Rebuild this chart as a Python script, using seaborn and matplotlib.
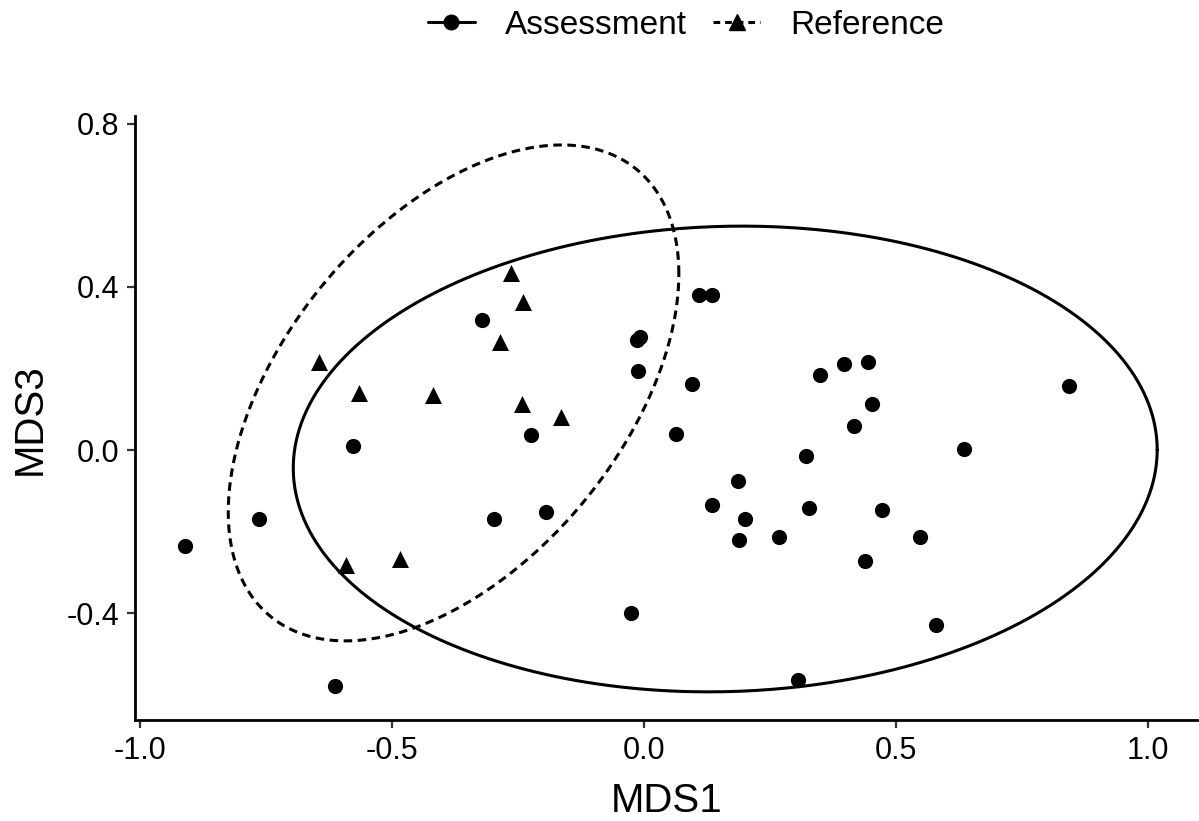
import numpy as np
import pandas as pd
import matplotlib
matplotlib.use("Agg")
import matplotlib.pyplot as plt
from matplotlib.lines import Line2D
import seaborn as sns

# ---------------- data ----------------
assess_x = [-0.911, -0.763, -0.577, -0.613, -0.321, -0.297, -0.225, -0.194, -0.025,
            -0.014, -0.008, -0.013, 0.096, 0.063, 0.109, 0.134, 0.350, 0.397, 0.445,
            0.452, 0.417, 0.321, 0.635, 0.843, 0.187, 0.134, 0.327, 0.472, 0.200,
            0.188, 0.267, 0.547, 0.438, 0.579, 0.306]
assess_y = [-0.235, -0.170, 0.011, -0.578, 0.320, -0.170, 0.036, -0.151, -0.399,
            0.270, 0.278, 0.194, 0.161, 0.039, 0.380, 0.380, 0.184, 0.212, 0.215,
            0.113, 0.058, -0.014, 0.002, 0.157, -0.075, -0.136, -0.142, -0.146, -0.169,
            -0.221, -0.214, -0.214, -0.273, -0.430, -0.564]
ref_x = [-0.264, -0.240, -0.286, -0.644, -0.566, -0.419, -0.242, -0.164, -0.591, -0.484]
ref_y = [0.433, 0.363, 0.265, 0.216, 0.139, 0.135, 0.114, 0.082, -0.282, -0.268]

groups = ["Assessment", "Reference"]
# ellipse parameters (centre, spread in x, spread in y, correlation)
ell_cx = [0.161, -0.378]
ell_cy = [-0.022, 0.140]
ell_sx = [0.857, 0.447]
ell_sy = [0.571, 0.608]
ell_rho = [0.039, 0.48]

xticks = [-1.0, -0.5, 0.0, 0.5, 1.0]
xtick_labels = ["-1.0", "-0.5", "0.0", "0.5", "1.0"]
yticks = [-0.4, 0.0, 0.4, 0.8]
ytick_labels = ["-0.4", "0.0", "0.4", "0.8"]

# ---------------- plot ----------------
sns.set_theme(style="ticks")
plt.rcParams['font.family'] = ['Liberation Sans', 'DejaVu Sans']
plt.rcParams['axes.unicode_minus'] = False

W, H = 1199, 821
fig = plt.figure(figsize=(W / 100, H / 100), dpi=100)
ax = fig.add_axes([135 / W, 1 - 720 / H, (1197 - 135) / W, (720 - 116) / H])

df_a = pd.DataFrame({"MDS1": assess_x, "MDS3": assess_y, "Group": groups[0]})
df_r = pd.DataFrame({"MDS1": ref_x, "MDS3": ref_y, "Group": groups[1]})

sns.scatterplot(data=df_a, x="MDS1", y="MDS3", color="black", marker="o",
                s=120, linewidth=0, legend=False, ax=ax, zorder=3)
sns.scatterplot(data=df_r, x="MDS1", y="MDS3", color="black", marker="^",
                s=150, linewidth=0, legend=False, ax=ax, zorder=3)

t = np.linspace(0, 2 * np.pi, 500)
styles = ["-", (0, (2.8, 1.8))]
for i in range(2):
    M = np.array([[ell_sx[i] ** 2, ell_rho[i] * ell_sx[i] * ell_sy[i]],
                  [ell_rho[i] * ell_sx[i] * ell_sy[i], ell_sy[i] ** 2]])
    L = np.linalg.cholesky(M)
    pts = np.array([[ell_cx[i]], [ell_cy[i]]]) + L @ np.vstack([np.cos(t), np.sin(t)])
    ax.plot(pts[0], pts[1], color="black", lw=2.2, linestyle=styles[i], zorder=2)

ax.set_xlim(-1.010, 1.097)
ax.set_ylim(-0.662, 0.819)
ax.set_xticks(xticks)
ax.set_xticklabels(xtick_labels)
ax.set_yticks(yticks)
ax.set_yticklabels(ytick_labels)

for s in ["top", "right"]:
    ax.spines[s].set_visible(False)
for s in ["left", "bottom"]:
    ax.spines[s].set_linewidth(2.0)
    ax.spines[s].set_color("black")
ax.tick_params(axis="both", direction="out", length=5.5, width=1.6, color="#333333",
               labelsize=22, labelcolor="black", pad=6)

ax.set_xlabel("MDS1", fontsize=29, color="black", va="baseline")
ax.xaxis.set_label_coords(667 / W, 1 - 812 / H, transform=fig.transFigure)
ax.set_ylabel("MDS3", fontsize=29, color="black", va="baseline")
ax.yaxis.set_label_coords(41 / W, 1 - 419 / H, transform=fig.transFigure)

handles = [
    Line2D([0], [0], color="black", lw=2.2, marker="o", markersize=10.5, linestyle="-"),
    Line2D([0], [0], color="black", lw=2.2, marker="^", markersize=12, linestyle=(0, (2.2, 1.6))),
]
leg = fig.legend(handles, groups, loc="center", bbox_to_anchor=(0.572, 1 - 25 / H), ncol=2,
                 frameon=False, fontsize=24, handlelength=1.4, handletextpad=0.9,
                 columnspacing=0.8)
for txt in leg.get_texts():
    txt.set_color("black")

fig.savefig("out.png", dpi=100)
